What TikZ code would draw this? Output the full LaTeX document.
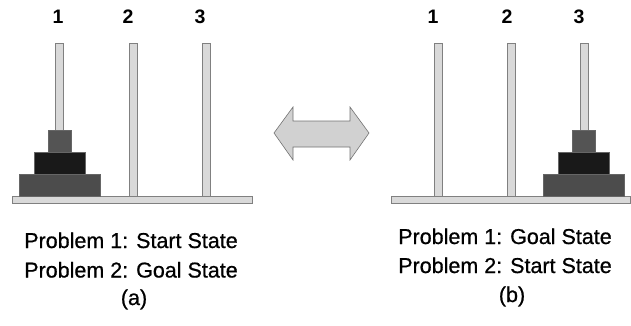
\documentclass[tikz,border=0pt]{standalone}
\usepackage{fontspec}
\setmainfont{Liberation Sans}
\newfontfamily\capfont[FakeBold=0.7]{Liberation Sans}
\begin{document}
\begin{tikzpicture}[x=1pt,y=-1pt,
  peg/.style={draw=black!50,fill=black!15,line width=0.6pt,inner sep=0pt,anchor=north west,minimum width=8pt},
  basebar/.style={draw=black!50,fill=black!15,line width=0.6pt,inner sep=0pt,anchor=north west,minimum height=7pt},
  disk/.style={draw=black!60,line width=0.5pt,inner sep=0pt,anchor=north west,minimum height=22pt},
  pegnum/.style={font=\fontsize{19.5}{19.5}\selectfont\bfseries,inner sep=0pt},
  caption/.style={font=\fontsize{21.5}{21.5}\selectfont\capfont,inner sep=0pt,anchor=base}]
\useasboundingbox (0,0) rectangle (631,326);
% left panel
\node[peg,minimum height=154pt] (la1) at (55,43) {};
\node[peg,minimum height=154pt] (la2) at (129,43) {};
\node[peg,minimum height=154pt] (la3) at (202,43) {};
\node[basebar,minimum width=240pt] (lbase) at (12,196) {};
\node[disk,fill=black!70,minimum width=81pt] (lbig) at (19,174) {};
\node[disk,fill=black!90,minimum width=51pt] (lmid) at (34,152) {};
\node[disk,fill=black!67,minimum width=23pt] (lsmall) at (48,130) {};
\node[pegnum] (ln1) at (58,17) {1};
\node[pegnum] (ln2) at (128,17) {2};
\node[pegnum] (ln3) at (200,17) {3};
% right panel
\node[peg,minimum height=154pt] (ra1) at (434,43) {};
\node[peg,minimum height=154pt] (ra2) at (507,43) {};
\node[peg,minimum height=154pt] (ra3) at (580,43) {};
\node[basebar,minimum width=239pt] (rbase) at (391,196) {};
\node[disk,fill=black!70,minimum width=81pt] (rbig) at (543,174) {};
\node[disk,fill=black!90,minimum width=51pt] (rmid) at (558,152) {};
\node[disk,fill=black!67,minimum width=23pt] (rsmall) at (572,130) {};
\node[pegnum] (rn1) at (433,17) {1};
\node[pegnum] (rn2) at (507,17) {2};
\node[pegnum] (rn3) at (579,17) {3};
% double arrow
\draw[draw=black!55,fill=black!18,line width=0.6pt]
  (274,133) -- (293,107) -- (293,121) -- (350,121) -- (350,107) -- (369,133)
  -- (350,160) -- (350,147) -- (293,147) -- (293,160) -- cycle;
% captions
\node[caption] (lc1) at (131,248) {Problem 1: Start State};
\node[caption] (lc2) at (131,277.5) {Problem 2: Goal State};
\node[caption] (lca) at (134,305) {(a)};
\node[caption] (rc1) at (505,244) {Problem 1: Goal State};
\node[caption] (rc2) at (505,273) {Problem 2: Start State};
\node[caption] (rcb) at (512,302) {(b)};
\end{tikzpicture}
\end{document}
